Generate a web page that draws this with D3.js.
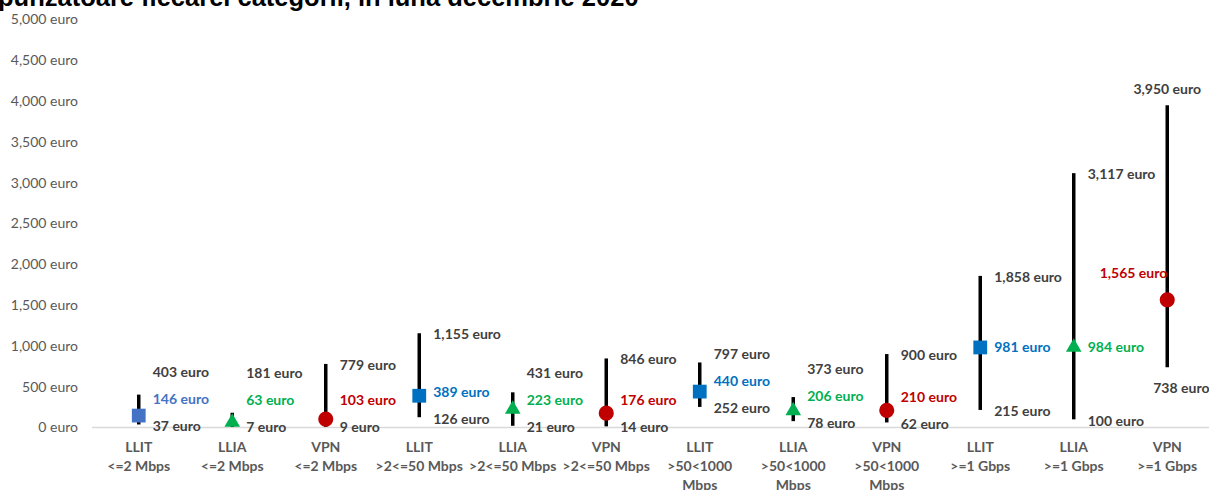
<!DOCTYPE html>
<html>
<head>
<meta charset="utf-8">
<script src="https://cdn.jsdelivr.net/npm/d3@7"></script>
<style>
  body { margin: 0; background: #fff; }
  svg { display: block; font-family: Lato, "Open Sans", sans-serif; }
</style>
</head>
<body>
<div id="chart"></div>
<script>
// date
var categories = [
    'LLIT\n<=2 Mbps', 'LLIA\n<=2 Mbps', 'VPN\n<=2 Mbps',
    'LLIT\n>2<=50 Mbps', 'LLIA\n>2<=50 Mbps', 'VPN\n>2<=50 Mbps',
    'LLIT\n>50<1000\nMbps', 'LLIA\n>50<1000\nMbps', 'VPN\n>50<1000\nMbps',
    'LLIT\n>=1 Gbps', 'LLIA\n>=1 Gbps', 'VPN\n>=1 Gbps'
];
var minVals = [37, 7, 9, 126, 21, 14, 252, 78, 62, 215, 100, 738];
var avgVals = [146, 63, 103, 389, 223, 176, 440, 206, 210, 981, 984, 1565];
var maxVals = [403, 181, 779, 1155, 431, 846, 797, 373, 900, 1858, 3117, 3950];
var yTicks = [0, 500, 1000, 1500, 2000, 2500, 3000, 3500, 4000, 4500, 5000];
var title = 'punzatoare fiecarei categorii, in luna decembrie 2020';

var chart_width = 1209;
var chart_height = 490;

var colors = { LLIT: '#0070C0', LLIA: '#00B050', VPN: '#C00000' };
var euro = function (v) { return d3.format(',')(v) + ' euro'; };
var typeOf = function (c) { return c.split('\n')[0]; };

var svg = d3.select('#chart')
    .append('svg')
    .attr('width', chart_width)
    .attr('height', chart_height);

// titlu (taiat sus)
svg.append('text')
    .attr('x', -2)
    .attr('y', 6)
    .attr('font-family', 'Liberation Sans, Arial, sans-serif')
    .attr('font-weight', 'bold')
    .attr('font-size', 25.5)
    .attr('fill', '#000')
    .text(title);

// scale
var x_scale = d3.scaleBand()
    .domain(categories)
    .range([92, 1214]);

var y_scale = d3.scaleLinear()
    .domain([0, 5000])
    .range([427.5, 19.5]);

// axa y
var y_axis = d3.axisLeft(y_scale)
    .tickValues(yTicks)
    .tickSize(0)
    .tickPadding(14)
    .tickFormat(euro);

svg.append('g')
    .attr('transform', 'translate(92,0)')
    .call(y_axis)
    .call(function (g) { g.select('.domain').remove(); })
    .selectAll('text')
    .attr('font-family', 'Lato, sans-serif')
    .attr('font-size', 14)
    .attr('fill', '#595959');

// axa x
svg.append('line')
    .attr('x1', 92)
    .attr('x2', chart_width)
    .attr('y1', y_scale(0))
    .attr('y2', y_scale(0))
    .attr('stroke', '#D9D9D9')
    .attr('stroke-width', 1.5);

var x_axis = d3.axisBottom(x_scale).tickSize(0).tickFormat('');
var xg = svg.append('g')
    .attr('transform', 'translate(0,' + y_scale(0) + ')')
    .call(x_axis);
xg.select('.domain').remove();
xg.selectAll('.tick').append('text')
    .attr('fill', '#595959')
    .attr('font-family', 'Lato, sans-serif')
    .attr('font-weight', 'bold')
    .attr('font-size', 14)
    .attr('text-anchor', 'middle')
    .selectAll('tspan')
    .data(function (d) { return d.split('\n'); })
    .enter()
    .append('tspan')
    .attr('x', 0)
    .attr('y', function (d, i) { return 24.5 + i * 19; })
    .text(function (d) { return d; });

var cx = function (i) { return x_scale(categories[i]) + x_scale.bandwidth() / 2; };

// linii min-max
svg.selectAll('line.range')
    .data(categories)
    .enter()
    .append('line')
    .attr('class', 'range')
    .attr('x1', function (d, i) { return cx(i); })
    .attr('x2', function (d, i) { return cx(i); })
    .attr('y1', function (d, i) { return y_scale(maxVals[i]); })
    .attr('y2', function (d, i) { return y_scale(minVals[i]); })
    .attr('stroke', '#000')
    .attr('stroke-width', 3.5);

// markere medie
var color = function (i) {
    return i === 0 ? '#4472C4' : colors[typeOf(categories[i])];
};
var symbols = {
    LLIT: d3.symbol().type(d3.symbolSquare).size(190),
    LLIA: d3.symbol().type(d3.symbolTriangle).size(105),
    VPN: d3.symbol().type(d3.symbolCircle).size(180)
};
svg.selectAll('path.avg')
    .data(categories)
    .enter()
    .append('path')
    .attr('class', 'avg')
    .attr('d', function (d) { return symbols[typeOf(d)](); })
    .attr('transform', function (d, i) {
        return 'translate(' + cx(i) + ',' + y_scale(avgVals[i]) + ')';
    })
    .attr('fill', function (d, i) { return color(i); });

// etichete: min jos, media si max impinse in sus ca sa nu se suprapuna
var gap = 27;
var labels = [];
categories.forEach(function (c, i) {
    var yMin = Math.min(y_scale(minVals[i]) + 1.5, 427);
    var yAvg = Math.min(y_scale(avgVals[i]), yMin - gap);
    var yMax = Math.min(y_scale(maxVals[i]) + 1, yAvg - gap);
    var x = cx(i);
    var overflow = x + 14 + 70 > chart_width;
    if (overflow) {
        labels.push({ t: euro(maxVals[i]), x: x, y: y_scale(maxVals[i]) - 16, a: 'middle', c: '#404040' });
        labels.push({ t: euro(avgVals[i]), x: x, y: y_scale(avgVals[i]) - 27, a: 'end', c: color(i) });
        labels.push({ t: euro(minVals[i]), x: x - 14, y: y_scale(minVals[i]) + 21, a: 'start', c: '#404040' });
    } else {
        labels.push({ t: euro(maxVals[i]), x: x + 14, y: yMax, a: 'start', c: '#404040' });
        labels.push({ t: euro(avgVals[i]), x: x + 14, y: yAvg, a: 'start', c: color(i) });
        labels.push({ t: euro(minVals[i]), x: x + 14, y: yMin, a: 'start', c: '#404040' });
    }
});

svg.selectAll('text.lbl')
    .data(labels)
    .enter()
    .append('text')
    .attr('class', 'lbl')
    .attr('x', function (d) { return d.x; })
    .attr('y', function (d) { return d.y; })
    .attr('dy', '0.35em')
    .attr('text-anchor', function (d) { return d.a; })
    .attr('font-family', 'Lato, sans-serif')
    .attr('font-weight', 'bold')
    .attr('font-size', 14)
    .attr('fill', function (d) { return d.c; })
    .text(function (d) { return d.t; });
</script>
</body>
</html>
